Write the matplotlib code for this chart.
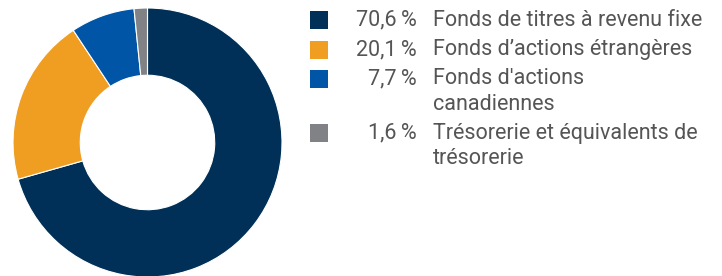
import matplotlib.pyplot as plt
import matplotlib.patches as patches

plt.rcParams['font.family'] = ['Roboto', 'DejaVu Sans']

# Data
labels = ["Fonds de titres à revenu fixe",
          "Fonds d’actions étrangères",
          "Fonds d'actions\ncanadiennes",
          "Trésorerie et équivalents de\ntrésorerie"]
values = [70.6, 20.1, 7.7, 1.6]
colors = ['#003057', '#F09E22', '#0055A6', '#808285']

W, H = 722, 276
fig = plt.figure(figsize=(W / 100, H / 100), dpi=100)

# donut: center (147.5, 142.5) px from top, radius ~134.5 px
cx, cy, r = 147.5, 142.5, 134.5
ax = fig.add_axes([(cx - r) / W, (H - cy - r) / H, 2 * r / W, 2 * r / H])
ax.pie(values, colors=colors, startangle=90, counterclock=False, radius=1,
       wedgeprops=dict(width=0.5, edgecolor='white', linewidth=0.8))
ax.set_xlim(-1, 1)
ax.set_ylim(-1, 1)
ax.set_aspect('equal')
ax.axis('off')

# legend, drawn by hand
row_y = [20, 50, 79, 133]
line_h = 25
txt_col = '#555555'
fs = 15.5
for i, (lab, v, c) in enumerate(zip(labels, values, colors)):
    y = row_y[i]
    fig.patches.append(patches.Rectangle((310 / W, (H - y - 9) / H), 18 / W, 18 / H,
                                         transform=fig.transFigure, facecolor=c,
                                         edgecolor='none'))
    pct = f"{v:.1f}".replace('.', ',') + "\u2009%"
    fig.text(417 / W, (H - y) / H, pct, ha='right', va='center',
             fontsize=fs, color=txt_col)
    for j, line in enumerate(lab.split('\n')):
        fig.text(433 / W, (H - y - j * line_h) / H, line, ha='left', va='center',
                 fontsize=fs, color=txt_col)

fig.savefig('out.png', dpi=100)
